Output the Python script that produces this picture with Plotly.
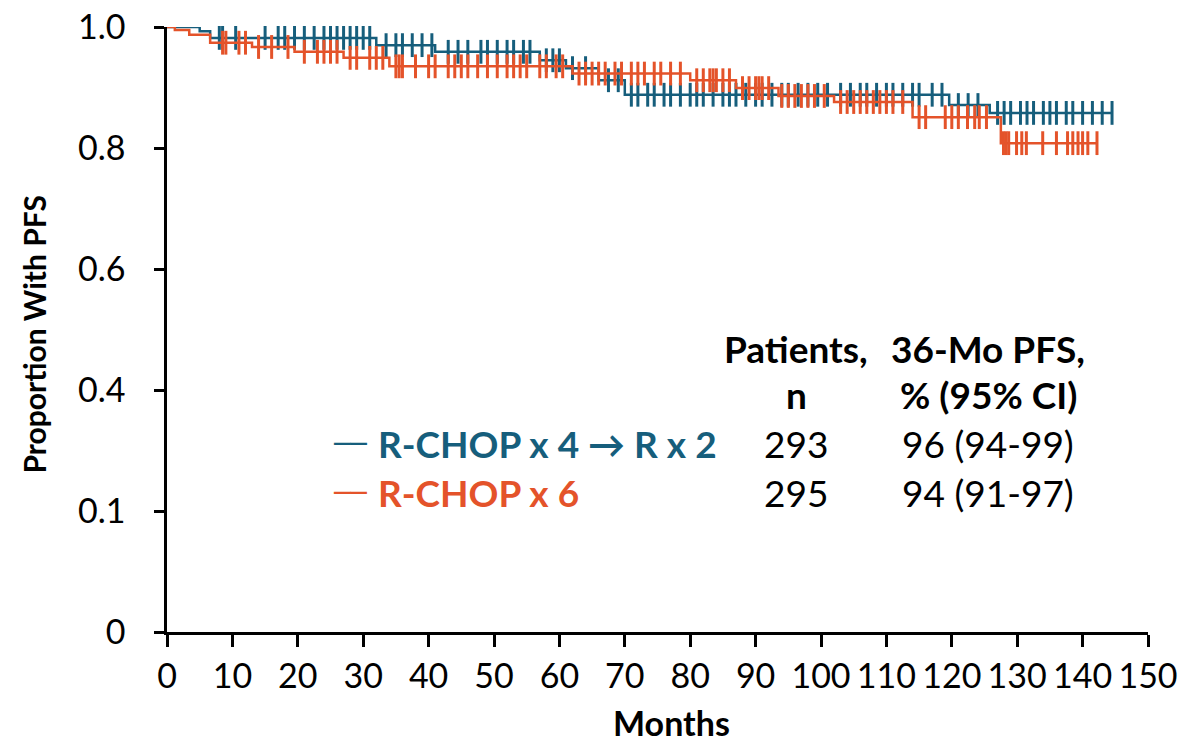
import plotly.graph_objects as go
import numpy as np

# ---- Kaplan-Meier step data (months, proportion) ----
blue_name = "R-CHOP x 4 → R x 2"
blue_t = [0, 5, 6.6, 32, 41, 57, 61, 66, 70, 119.6, 125.8, 144.5]
blue_s = [1.0, 0.993, 0.982, 0.970, 0.959, 0.945, 0.932, 0.912, 0.888, 0.871, 0.858, 0.858]
blue_censor = [8, 8.5, 10.5, 15, 17, 18, 19.5, 21, 22.5, 24, 25, 26, 27, 28, 29, 30, 31,
               33.5, 35, 36, 37.5, 39, 40.5,
               43, 44.5, 46, 48, 49, 50.5, 52, 53, 54.5, 55.5,
               58, 59, 60, 62, 64, 67.5, 69,
               71, 72, 73.5, 74.5, 76, 77, 78.5, 80, 81, 82, 83.5, 85, 86, 87, 88.5, 90,
               91, 92.5, 94, 95, 96.5, 98, 99.5, 101, 103, 104.5, 106, 107, 108.5, 110,
               111, 112.5, 114, 115, 117, 118.5,
               121, 122.5, 124,
               127, 128, 129, 130.5, 131.5, 132.5, 134, 135, 136, 137.5, 138.5, 140, 141.5, 143, 144.5]

orange_name = "R-CHOP x 6"
orange_t = [0, 1.2, 3.4, 6.6, 13, 19.5, 27, 34, 62, 80, 87, 93.5, 102, 114, 127.5, 142.2]
orange_s = [1.0, 0.995, 0.987, 0.974, 0.967, 0.959, 0.949, 0.935, 0.923, 0.912, 0.899, 0.886,
            0.876, 0.851, 0.808, 0.808]
orange_censor = [8.5, 9, 11, 12, 14, 16, 18.5, 21, 23, 24, 25, 26, 28, 29, 31, 32, 33,
                 35, 35.5, 36, 38, 40, 41, 43, 44, 45, 46, 47.5, 49, 50.5, 52, 53, 54, 55,
                 57, 58, 59.5, 60.5,
                 63, 64, 65, 66, 67, 68.5, 69.5, 71, 72, 73, 74.5, 75.5, 77, 78.5,
                 81, 82, 83, 83.5, 84, 85, 86, 88, 89, 90, 90.5, 91, 92,
                 94, 95, 96, 97, 98, 99, 100.5,
                 103, 104, 105, 106, 107, 108, 109, 110, 111, 112.5,
                 115, 116, 119, 120, 121, 122.4, 123.5, 124.2, 125.3,
                 127.9, 128.3, 128.7, 129.9, 130.7, 131.4, 133.9, 136, 137.7, 138.5,
                 139.3, 140, 140.8, 142.2]

# table
table_n = ["293", "295"]
table_pfs = ["96 (94-99)", "94 (91-97)"]

x_ticks = list(range(0, 151, 10))
y_tickvals = [0, 0.2, 0.4, 0.6, 0.8, 1.0]
y_ticktext = ["0", "0.1", "0.4", "0.6", "0.8", "1.0"]

BLUE = "#165e7c"
ORANGE = "#e4532a"
FONT = "Lato"


def surv_at(times, st, ss):
    st = np.asarray(st)
    ss = np.asarray(ss)
    idx = np.searchsorted(st, np.asarray(times), side="right") - 1
    return ss[idx]


fig = go.Figure()
for name, t, s, c, col in [(blue_name, blue_t, blue_s, blue_censor, BLUE),
                           (orange_name, orange_t, orange_s, orange_censor, ORANGE)]:
    fig.add_trace(go.Scatter(x=t, y=s, mode="lines", line=dict(color=col, width=2.5, shape="hv"),
                             name=name, showlegend=False, cliponaxis=False))
    fig.add_trace(go.Scatter(x=c, y=surv_at(c, t, s), mode="markers",
                             marker=dict(symbol="line-ns", size=17,
                                         line=dict(color=col, width=3)),
                             showlegend=False, cliponaxis=False))

ann = []
fs_tab = 37
fs_tick = 34
ann.append(dict(x=31.9, y=0.312, xref="x", yref="y", xanchor="left", yanchor="middle",
                text="<b>" + blue_name + "</b>", showarrow=False,
                font=dict(family=FONT, size=fs_tab, color=BLUE)))
ann.append(dict(x=31.9, y=0.231, xref="x", yref="y", xanchor="left", yanchor="middle",
                text="<b>" + orange_name + "</b>", showarrow=False,
                font=dict(family=FONT, size=fs_tab, color=ORANGE)))
ann.append(dict(x=30.9, y=0.312, xref="x", yref="y", xanchor="right", yanchor="middle",
                text="──", showarrow=False,
                font=dict(family="DejaVu Sans Mono", size=27, color=BLUE)))
ann.append(dict(x=30.9, y=0.231, xref="x", yref="y", xanchor="right", yanchor="middle",
                text="──", showarrow=False,
                font=dict(family="DejaVu Sans Mono", size=27, color=ORANGE)))
for txt, xx, yy in [("<b>Patients,</b>", 96.2, 0.469), ("<b>n</b>", 96.2, 0.392),
                    ("<b>36-Mo PFS,</b>", 125.6, 0.469), ("<b>% (95% CI)</b>", 125.6, 0.392),
                    (table_n[0], 96.2, 0.312), (table_n[1], 96.2, 0.231),
                    (table_pfs[0], 125.6, 0.312), (table_pfs[1], 125.6, 0.231)]:
    ann.append(dict(x=xx, y=yy, xref="x", yref="y", xanchor="center", yanchor="middle",
                    text=txt, showarrow=False, font=dict(family=FONT, size=fs_tab, color="black")))
ann.append(dict(x=0.514, y=-0.187, xref="paper", yref="paper", xanchor="center", yanchor="bottom",
                text="<b>Months</b>", showarrow=False, font=dict(family=FONT, size=34, color="black")))
ann.append(dict(x=-0.136, y=0.491, xref="paper", yref="paper", xanchor="center", yanchor="middle",
                text="<b>Proportion With PFS</b>", textangle=-90, showarrow=False,
                font=dict(family=FONT, size=30, color="black")))

fig.update_layout(
    width=1181, height=745,
    margin=dict(l=167, r=33, t=27, b=113, autoexpand=False),
    plot_bgcolor="white", paper_bgcolor="white",
    annotations=ann,
    font=dict(family=FONT, size=fs_tick, color="black"),
)
fig.update_xaxes(range=[0, 150], tickvals=x_ticks, showgrid=False, zeroline=False,
                 showline=True, linecolor="black", linewidth=2.5, ticks="outside",
                 ticklen=12, tickwidth=2.5, tickcolor="black", automargin=False,
                 tickfont=dict(family=FONT, size=fs_tick, color="black"))
fig.update_yaxes(range=[0, 1], tickvals=y_tickvals, ticktext=y_ticktext, showgrid=False,
                 zeroline=False, showline=True, linecolor="black", linewidth=2.5,
                 ticks="outside", ticklen=10, tickwidth=2.5, tickcolor="black",
                 ticklabelstandoff=22, automargin=False,
                 tickfont=dict(family=FONT, size=fs_tick, color="black"))

fig.write_html("out.html", config={"displayModeBar": False},
               post_script="document.body.style.margin='0';document.body.style.overflow='hidden';")
